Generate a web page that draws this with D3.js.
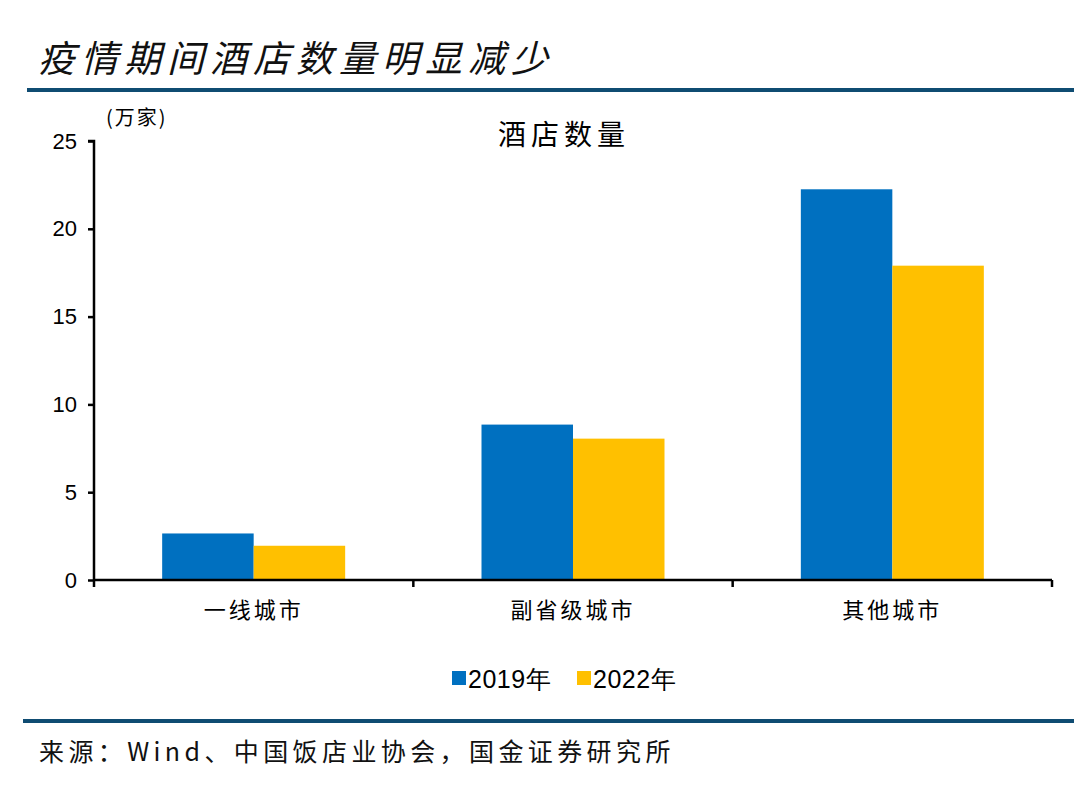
<!DOCTYPE html>
<html><head><meta charset="utf-8">
<script src="https://cdn.jsdelivr.net/npm/d3@7"></script>
<style>body{margin:0;background:#fff}svg{display:block}</style>
</head><body>
<svg id="c" width="1074" height="795"></svg>
<script>
const categories = ["一线城市", "副省级城市", "其他城市"];
const seriesNames = ["2019年", "2022年"];
const values2019 = [2.65, 8.85, 22.25];
const values2022 = [1.95, 8.05, 17.9];
const yTicks = [0, 5, 10, 15, 20, 25];
const colors = ["#0070C0", "#FFC000"];

const svg = d3.select("#c");
const cjk = "'Noto Sans CJK SC', sans-serif";
const lat = "'Liberation Sans', Arial, sans-serif";

// header
svg.append("text").attr("x", 38).attr("y", 72).attr("font-family", cjk)
  .attr("font-size", 37).attr("font-style", "italic").attr("fill", "#111")
  .attr("letter-spacing", 6).text("疫情期间酒店数量明显减少");
svg.append("rect").attr("x", 27).attr("y", 88).attr("width", 1047).attr("height", 4).attr("fill", "#0F4C72");
svg.append("rect").attr("x", 23).attr("y", 719).attr("width", 1051).attr("height", 4).attr("fill", "#0F4C72");
svg.append("text").attr("x", 39).attr("y", 761).attr("font-family", cjk)
  .attr("font-size", 25).attr("fill", "#111").attr("letter-spacing", 4.4)
  .text("来源：Wind、中国饭店业协会，国金证券研究所");

const x0 = d3.scaleBand().domain(categories).range([94, 1052]).paddingInner(0).paddingOuter(0);
const x1 = d3.scaleBand().domain(seriesNames).range([0, x0.bandwidth()]).paddingInner(0).paddingOuter(0.745);
const y = d3.scaleLinear().domain([0, 25]).range([580, 141]);

const data = categories.map((c, i) => ({c, v: [values2019[i], values2022[i]]}));

svg.append("g").selectAll("g").data(data).join("g")
  .attr("transform", d => `translate(${x0(d.c)},0)`)
  .selectAll("rect").data(d => d.v.map((v, j) => ({v, s: seriesNames[j], j})))
  .join("rect")
  .attr("x", d => x1(d.s)).attr("width", x1.bandwidth())
  .attr("y", d => y(d.v)).attr("height", d => y(0) - y(d.v))
  .attr("fill", d => colors[d.j]);

// y axis
const ya = svg.append("g").attr("transform", "translate(94,0)")
  .call(d3.axisLeft(y).tickValues(yTicks).tickSize(6).tickPadding(11));
ya.select(".domain").attr("stroke-width", 2.5).attr("d", "M-6,141H0V580");
ya.selectAll(".tick line").attr("stroke-width", 2.5);
ya.selectAll(".tick text").attr("font-family", lat).attr("font-size", 22).attr("fill", "#000");

// x axis
const xa = svg.append("g").attr("transform", "translate(0,580)")
  .call(d3.axisBottom(x0).tickSize(0).tickPadding(22));
xa.select(".domain").attr("stroke-width", 2.5).attr("d", "M94,0H1052");
xa.selectAll(".tick text").attr("font-family", cjk).attr("font-size", 22)
  .attr("letter-spacing", 3).attr("fill", "#000");
const bounds = categories.map(c => x0(c)).concat([x0.range()[1]]);
xa.selectAll(".bnd").data(bounds).join("line").attr("class", "bnd")
  .attr("x1", d => d).attr("x2", d => d).attr("y1", 0).attr("y2", 7)
  .attr("stroke", "#000").attr("stroke-width", 2.5);

// titles
svg.append("text").attr("x", 564).attr("y", 145).attr("text-anchor", "middle")
  .attr("font-family", cjk).attr("font-size", 28).attr("letter-spacing", 5)
  .attr("fill", "#000").text("酒店数量");
svg.append("text").attr("x", 106).attr("y", 125).attr("font-family", cjk)
  .attr("font-size", 20).attr("letter-spacing", 2).attr("fill", "#000").text("(万家)");

// legend
const lg = svg.append("g");
const lx = [452, 577];
seriesNames.forEach((s, i) => {
  lg.append("rect").attr("x", lx[i]).attr("y", 671).attr("width", 14).attr("height", 14).attr("fill", colors[i]);
  lg.append("text").attr("x", lx[i] + 16).attr("y", 688).attr("font-family", lat)
    .attr("font-size", 25).attr("letter-spacing", 0.5).attr("fill", "#000").text(s);
});
</script>
</body></html>
